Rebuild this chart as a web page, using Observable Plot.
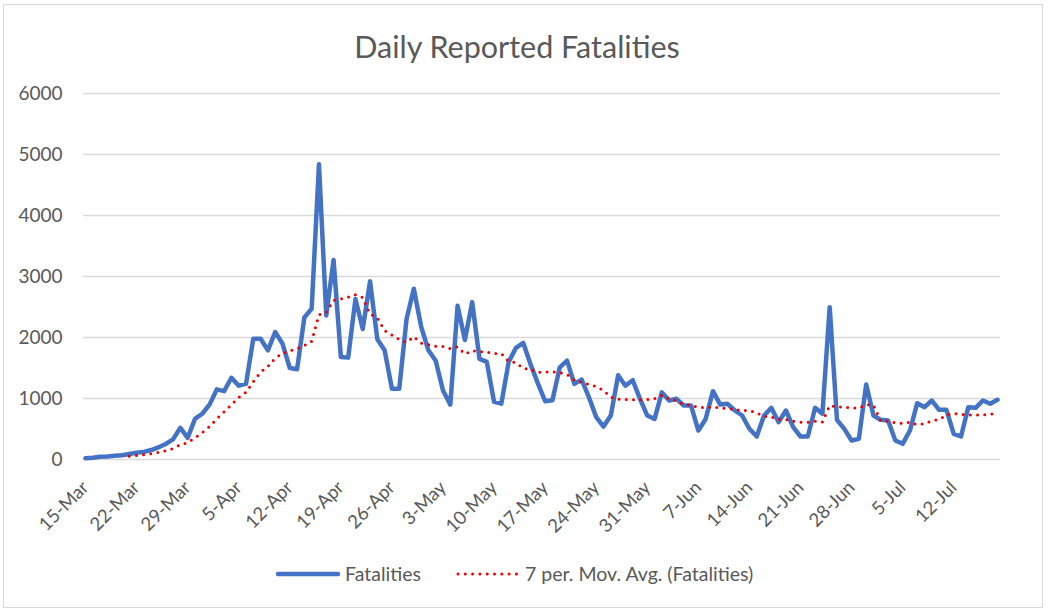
<!DOCTYPE html>
<html>
<head>
<meta charset="utf-8">
<script src="https://cdn.jsdelivr.net/npm/d3@7"></script>
<script src="https://cdn.jsdelivr.net/npm/@observablehq/plot@0.6"></script>
<style>
  body { margin: 0; background: #fff; }
  #wrap { position: relative; width: 1048px; height: 614px; font-family: Lato, "Open Sans", sans-serif; overflow: hidden; }
  #frame { position: absolute; left: 3px; top: 4px; width: 1038px; height: 602px; border: 1.5px solid #d9d9d9; box-sizing: content-box; }
  #plot { position: absolute; left: 0; top: 80px; }
  #overlay { position: absolute; left: 0; top: 0; pointer-events: none; }
</style>
</head>
<body>
<div id="wrap">
  <div id="frame"></div>
  <div id="plot"></div>
  <svg id="overlay" width="1048" height="614"></svg>
</div>
<script>
// ---- data ----
const titleText = "Daily Reported Fatalities";
const seriesName = "Fatalities";
const trendName = "7 per. Mov. Avg. (Fatalities)";
const startDate = new Date(Date.UTC(2020, 2, 15)); // 15-Mar
const fatalities = [
  20, 30, 45, 50, 60, 70, 90, 110, 125, 155,
  200, 255, 330, 520, 355, 665, 750, 900, 1150, 1120,
  1340, 1210, 1240, 1980, 1980, 1790, 2090, 1900, 1500, 1480,
  2330, 2470, 4840, 2360, 3270, 1680, 1670, 2630, 2140, 2920,
  1970, 1790, 1160, 1160, 2300, 2800, 2180, 1790, 1620, 1130,
  900, 2520, 1960, 2580, 1650, 1600, 945, 915, 1600, 1830,
  1910, 1560, 1250, 955, 970, 1510, 1620, 1240, 1310, 1020,
  695, 540, 720, 1380, 1210, 1300, 995, 720, 665, 1100,
  967, 995, 885, 885, 475, 665, 1120, 900, 913, 803,
  721, 503, 377, 721, 847, 612, 803, 530, 377, 377,
  847, 749, 2497, 650, 503, 311, 339, 1230, 721, 650,
  639, 311, 257, 475, 923, 858, 967, 814, 814, 421,
  377, 858, 847, 967, 913, 978
];
const yTicks = [0, 1000, 2000, 3000, 4000, 5000, 6000];
const tickEvery = 7;
const maWindow = 7;

// ---- derived table ----
const dates = fatalities.map((_, i) => d3.utcDay.offset(startDate, i));
const data = fatalities.map((v, i) => ({date: dates[i], value: v}));
const xTicks = dates.filter((_, i) => i % tickEvery === 0);

const textColor = "#595959";
const gridColor = "#d9d9d9";
const blue = "#4472C4";
const red = "#EE0000";

const chart = Plot.plot({
  width: 1048,
  height: 470,
  marginLeft: 85,
  marginRight: 51,
  marginTop: 13,
  marginBottom: 91,
  style: {fontFamily: "Lato, 'Open Sans', sans-serif", fontSize: "19px", color: textColor, background: "transparent", overflow: "visible"},
  x: {type: "utc", domain: [dates[0], dates[dates.length - 1]]},
  y: {domain: [0, 6000]},
  marks: [
    Plot.ruleY(yTicks, {stroke: gridColor, strokeWidth: 1.4, insetLeft: -2, insetRight: -3}),
    Plot.axisY({ticks: yTicks, tickSize: 0, tickPadding: 23, label: null, tickFormat: d => String(d), fontSize: 19}),
    Plot.axisX({ticks: xTicks, tickSize: 0, tickPadding: 25, tickRotate: -45, label: null, tickFormat: d3.utcFormat("%-d-%b"), fontSize: 18.5}),
    Plot.lineY(data, {x: "date", y: "value", stroke: blue, strokeWidth: 4.5, strokeLinejoin: "round", strokeLinecap: "round"}),
    Plot.lineY(data, Plot.mapY(
      V => V.map((_, i) => i < maWindow - 1 ? NaN : d3.mean(V.slice(i - maWindow + 1, i + 1))),
      {x: "date", y: "value", stroke: red, strokeWidth: 3, strokeDasharray: "0 7.2", strokeLinecap: "round"}
    ))
  ]
});
document.getElementById("plot").appendChild(chart);

// ---- title and legend ----
const ov = d3.select("#overlay");
ov.append("text").attr("x", 517).attr("y", 58).attr("text-anchor", "middle")
  .attr("font-family", "Lato, 'Open Sans', sans-serif").attr("font-size", 30.5).attr("fill", textColor).text(titleText);

const lg = ov.append("g").attr("font-family", "Lato, 'Open Sans', sans-serif").attr("font-size", 19.5).attr("fill", textColor);
lg.append("line").attr("x1", 278).attr("x2", 338).attr("y1", 574).attr("y2", 574)
  .attr("stroke", blue).attr("stroke-width", 4.5).attr("stroke-linecap", "round");
lg.append("text").attr("x", 345).attr("y", 581).text(seriesName);
lg.append("line").attr("x1", 458).attr("x2", 517).attr("y1", 574).attr("y2", 574)
  .attr("stroke", red).attr("stroke-width", 3).attr("stroke-linecap", "round").attr("stroke-dasharray", "0 7.3");
lg.append("text").attr("x", 525).attr("y", 581).text(trendName);
</script>
</body>
</html>
